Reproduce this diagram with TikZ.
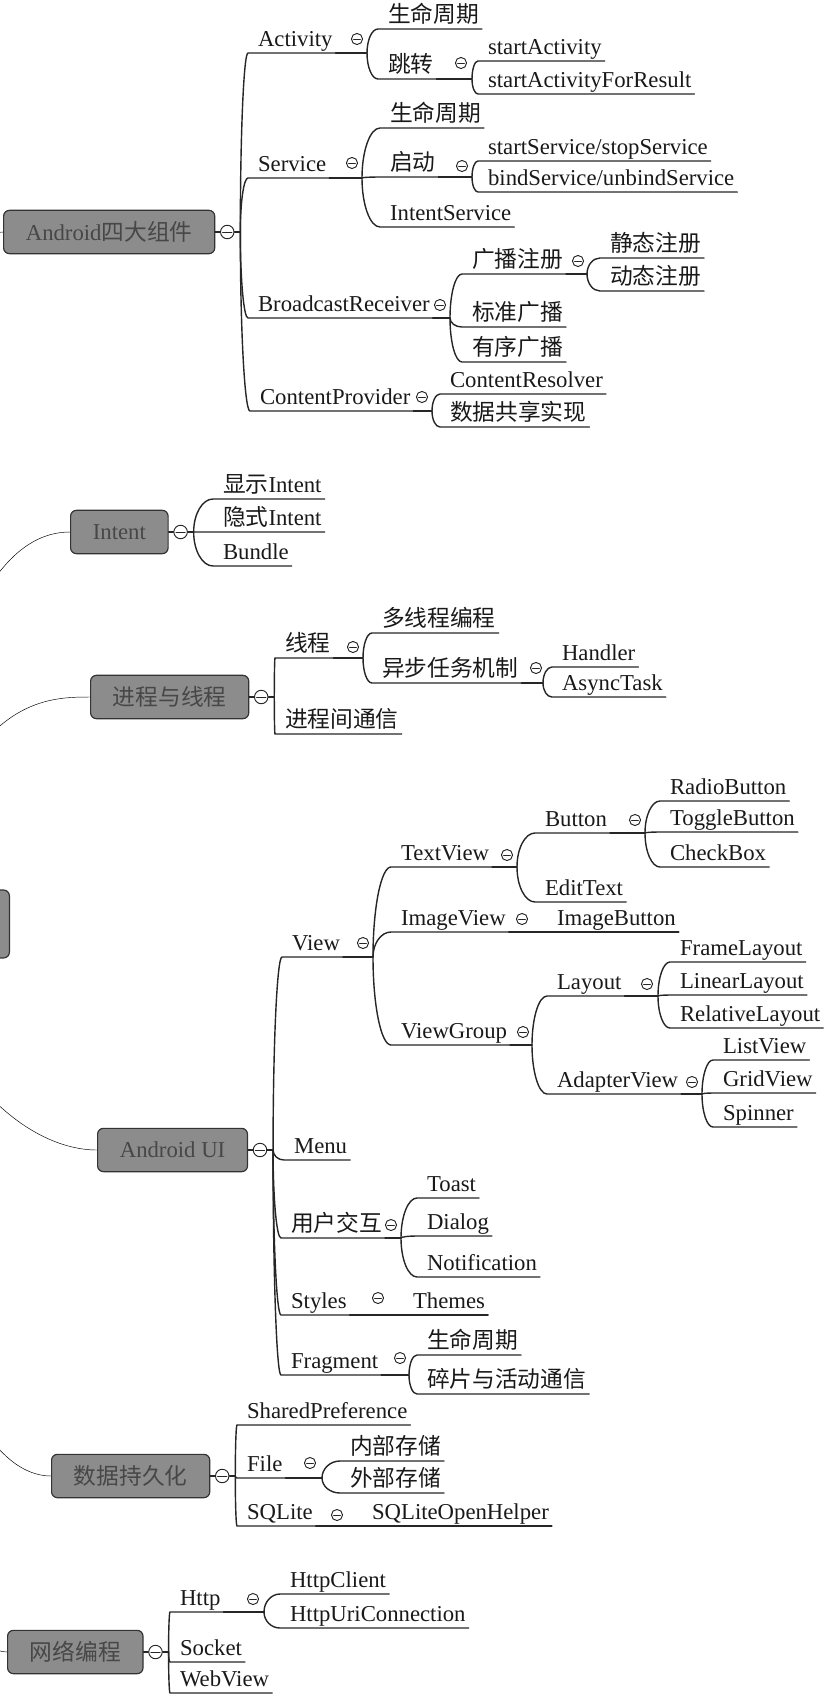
\documentclass[tikz,border=0pt]{standalone}
\usepackage{fontspec}
\setmainfont{Liberation Serif}
\newfontfamily\cjk{Noto Sans CJK SC}
\newcommand{\zh}[1]{{\cjk #1}}
\usetikzlibrary{calc,positioning}
\pgfdeclarelayer{back}
\pgfsetlayers{back,main}

\begin{document}
\begin{tikzpicture}[x=0.03cm, y=-0.03cm, line width=1.2pt, line cap=round, color=black!85,
    font=\fontsize{19.4}{22}\selectfont,
    topic/.style={anchor=south west, inner xsep=2pt, inner ysep=0.5pt, text height=14pt, text depth=4.6pt,
        text=black!90, execute at begin node={\hspace*{6pt}}},
    mainbox/.style={anchor=west, draw=black!80, fill=black!45, text=black!72, rounded corners=5pt,
        minimum height=37pt, inner xsep=19pt, line width=1pt},
    fold/.style={circle, draw, fill=white, inner sep=0pt, minimum size=9.5pt, line width=0.8pt,
        path picture={\draw[line width=0.8pt] ([xshift=1.8pt]path picture bounding box.west) -- ([xshift=-1.8pt]path picture bounding box.east);}},
    bigfold/.style={fold, minimum size=11.5pt},
    branch/.style={to path={.. controls ($(\tikztostart)!0.55!(\tikztostart |- \tikztotarget)$)
        and ($(\tikztotarget)!0.55!(\tikztostart |- \tikztotarget)$) .. (\tikztotarget)}}]
        \useasboundingbox (0,0) rectangle (833,1704);

        \node[mainbox, anchor=east, minimum width=180pt, minimum height=58pt] (root) at (10,924) {};

        % Android四大组件
        \node[mainbox] (comp) at (3,232) {Android\zh{四大组件}};
        \node[bigfold, right=4pt of comp] (compf) {};
        \coordinate (compb) at ([xshift=5pt]compf.east);
        \draw (comp) -- (compf);
        \draw (compf) -- (compb);
        \node[topic] (act) at (248,53) {Activity};
        \node[topic] (serv) at (248,178) {Service};
        \node[topic] (brd) at (248,318) {BroadcastReceiver};
        \node[topic] (cp) at (250,411) {ContentProvider};
        \foreach \n in {act,serv,brd,cp}
            \draw (compb) to[branch] (\n.south west) -- (\n.south east);

        \node[fold] (actf) at (357,39) {};
        \coordinate (actb) at (367,53);
        \draw (act.south east) -- (actb);
        \node[topic] (actlife) at (378,29) {\zh{生命周期}};
        \node[topic] (jump) at (378,79) {\zh{跳转}};
        \foreach \n in {actlife,jump}
            \draw (actb) to[branch] (\n.south west) -- (\n.south east);
        \node[fold] (jumpf) at (461,63) {};
        \coordinate (jumpb) at (472,79);
        \draw (jump.south east) -- (jumpb);
        \node[topic] (jumpa) at (478,61) {startActivity};
        \node[topic] (jumpr) at (478,94) {startActivityForResult};
        \foreach \n in {jumpa,jumpr}
            \draw (jumpb) to[branch] (\n.south west) -- (\n.south east);

        \node[fold] (servf) at (352,163) {};
        \coordinate (servb) at (362,178);
        \draw (serv.south east) -- (servb);
        \node[topic] (servlife) at (380,128) {\zh{生命周期}};
        \node[topic] (launch) at (380,177) {\zh{启动}};
        \node[topic] (isrv) at (380,227) {IntentService};
        \foreach \n in {servlife,launch,isrv}
            \draw (servb) to[branch] (\n.south west) -- (\n.south east);
        \node[fold] (launchf) at (462,166) {};
        \coordinate (launchb) at (472,177);
        \draw (launch.south east) -- (launchb);
        \node[topic] (startsrv) at (478,161) {startService/stopService};
        \node[topic] (bindsrv) at (478,192) {bindService/unbindService};
        \foreach \n in {startsrv,bindsrv}
            \draw (launchb) to[branch] (\n.south west) -- (\n.south east);

        \node[fold] (brdf) at (440,305) {};
        \coordinate (brdb) at (450,318);
        \draw (brd.south east) -- (brdb);
        \node[topic] (reg) at (462,274) {\zh{广播注册}};
        \node[topic] (normal) at (462,327) {\zh{标准广播}};
        \node[topic] (order) at (462,362) {\zh{有序广播}};
        \foreach \n in {reg,normal,order}
            \draw (brdb) to[branch] (\n.south west) -- (\n.south east);
        \node[fold] (regf) at (578,261) {};
        \coordinate (regb) at (587,274);
        \draw (reg.south east) -- (regb);
        \node[topic] (regstat) at (600,258) {\zh{静态注册}};
        \node[topic] (regdyn) at (600,291) {\zh{动态注册}};
        \foreach \n in {regstat,regdyn}
            \draw (regb) to[branch] (\n.south west) -- (\n.south east);

        \node[fold] (cpf) at (422,397) {};
        \coordinate (cpb) at (432,411);
        \draw (cp.south east) -- (cpb);
        \node[topic] (resolver) at (440,394) {ContentResolver};
        \node[topic] (share) at (440,427) {\zh{数据共享实现}};
        \foreach \n in {resolver,share}
            \draw (cpb) to[branch] (\n.south west) -- (\n.south east);

        % Intent
        \node[mainbox] (intent) at (70,532) {Intent};
        \node[bigfold, right=4pt of intent] (intentf) {};
        \coordinate (intentb) at ([xshift=5pt]intentf.east);
        \draw (intent) -- (intentf);
        \draw (intentf) -- (intentb);
        \node[topic] (explicit) at (213,499) {\zh{显示}Intent};
        \node[topic] (implicit) at (213,532) {\zh{隐式}Intent};
        \node[topic] (bundle) at (213,566) {Bundle};
        \foreach \n in {explicit,implicit,bundle}
            \draw (intentb) to[branch] (\n.south west) -- (\n.south east);

        % 进程与线程
        \node[mainbox] (proc) at (90,697) {\zh{进程与线程}};
        \node[bigfold, right=4pt of proc] (procf) {};
        \coordinate (procb) at ([xshift=5pt]procf.east);
        \draw (proc) -- (procf);
        \draw (procf) -- (procb);
        \node[topic] (thread) at (275,658) {\zh{线程}};
        \node[topic] (ipc) at (275,734) {\zh{进程间通信}};
        \foreach \n in {thread,ipc}
            \draw (procb) to[branch] (\n.south west) -- (\n.south east);
        \node[fold] (threadf) at (353,647) {};
        \coordinate (threadb) at (363,658);
        \draw (thread.south east) -- (threadb);
        \node[topic] (multi) at (372,633) {\zh{多线程编程}};
        \node[topic] (async) at (372,683) {\zh{异步任务机制}};
        \foreach \n in {multi,async}
            \draw (threadb) to[branch] (\n.south west) -- (\n.south east);
        \node[fold] (asyncf) at (536,668) {};
        \coordinate (asyncb) at (543,683);
        \draw (async.south east) -- (asyncb);
        \node[topic] (handler) at (552,667) {Handler};
        \node[topic] (atask) at (552,697) {AsyncTask};
        \foreach \n in {handler,atask}
            \draw (asyncb) to[branch] (\n.south west) -- (\n.south east);

        % Android UI
        \node[mainbox] (ui) at (97,1150) {Android UI};
        \node[bigfold, right=4pt of ui] (uif) {};
        \coordinate (uib) at ([xshift=5pt]uif.east);
        \draw (ui) -- (uif);
        \draw (uif) -- (uib);
        \node[topic] (view) at (282,957) {View};
        \node[topic] (menu) at (284,1160) {Menu};
        \node[topic] (inter) at (281,1238) {\zh{用户交互}};
        \node[topic] (sty) at (281,1315) {Styles};
        \node[topic] (frag) at (281,1375) {Fragment};
        \foreach \n in {view,menu,inter,sty,frag}
            \draw (uib) to[branch] (\n.south west) -- (\n.south east);

        \node[fold] (viewf) at (363,943) {};
        \coordinate (viewb) at (373,957);
        \draw (view.south east) -- (viewb);
        \node[topic] (tv) at (391,867) {TextView};
        \node[topic] (iv) at (391,932) {ImageView};
        \node[topic] (vg) at (391,1045) {ViewGroup};
        \foreach \n in {tv,iv,vg}
            \draw (viewb) to[branch] (\n.south west) -- (\n.south east);

        \node[fold] (tvf) at (507,855) {};
        \coordinate (tvb) at (517,867);
        \draw (tv.south east) -- (tvb);
        \node[topic] (btn) at (535,833) {Button};
        \node[topic] (et) at (535,902) {EditText};
        \foreach \n in {btn,et}
            \draw (tvb) to[branch] (\n.south west) -- (\n.south east);
        \node[fold] (btnf) at (635,820) {};
        \coordinate (btnb) at (645,833);
        \draw (btn.south east) -- (btnb);
        \node[topic] (rb) at (660,801) {RadioButton};
        \node[topic] (tb) at (660,832) {ToggleButton};
        \node[topic] (cb) at (660,867) {CheckBox};
        \foreach \n in {rb,tb,cb}
            \draw (btnb) to[branch] (\n.south west) -- (\n.south east);

        \node[fold] (ivf) at (522,919) {};
        \node[topic] (ib) at (547,932) {ImageButton};
        \draw (iv.south east) -- (ib.south west) -- (ib.south east);

        \node[fold] (vgf) at (523,1032) {};
        \coordinate (vgb) at (532,1045);
        \draw (vg.south east) -- (vgb);
        \node[topic] (lay) at (547,996) {Layout};
        \node[topic] (adp) at (547,1094) {AdapterView};
        \foreach \n in {lay,adp}
            \draw (vgb) to[branch] (\n.south west) -- (\n.south east);
        \node[fold] (layf) at (647,984) {};
        \coordinate (layb) at (658,996);
        \draw (lay.south east) -- (layb);
        \node[topic] (fl) at (670,962) {FrameLayout};
        \node[topic] (ll) at (670,995) {LinearLayout};
        \node[topic] (rl) at (670,1028) {RelativeLayout};
        \foreach \n in {fl,ll,rl}
            \draw (layb) to[branch] (\n.south west) -- (\n.south east);
        \node[fold] (adpf) at (692,1082) {};
        \coordinate (adpb) at (702,1094);
        \draw (adp.south east) -- (adpb);
        \node[topic] (lv) at (713,1060) {ListView};
        \node[topic] (gv) at (713,1093) {GridView};
        \node[topic] (spn) at (713,1127) {Spinner};
        \foreach \n in {lv,gv,spn}
            \draw (adpb) to[branch] (\n.south west) -- (\n.south east);

        \node[fold] (interf) at (391,1225) {};
        \coordinate (interb) at (401,1238);
        \draw (inter.south east) -- (interb);
        \node[topic] (toast) at (417,1198) {Toast};
        \node[topic] (dlg) at (417,1236) {Dialog};
        \node[topic] (ntf) at (417,1277) {Notification};
        \foreach \n in {toast,dlg,ntf}
            \draw (interb) to[branch] (\n.south west) -- (\n.south east);

        \node[fold] (styf) at (378,1298) {};
        \node[topic] (thm) at (403,1315) {Themes};
        \draw (sty.south east) -- (thm.south west) -- (thm.south east);

        \node[fold] (fragf) at (400,1358) {};
        \coordinate (fragb) at (409,1375);
        \draw (frag.south east) -- (fragb);
        \node[topic] (fraglife) at (417,1355) {\zh{生命周期}};
        \node[topic] (fragcom) at (417,1394) {\zh{碎片与活动通信}};
        \foreach \n in {fraglife,fragcom}
            \draw (fragb) to[branch] (\n.south west) -- (\n.south east);

        % 数据持久化
        \node[mainbox] (data) at (51,1476) {\zh{数据持久化}};
        \node[bigfold, right=4pt of data] (dataf) {};
        \coordinate (datab) at ([xshift=5pt]dataf.east);
        \draw (data) -- (dataf);
        \draw (dataf) -- (datab);
        \node[topic] (shared) at (237,1425) {SharedPreference};
        \node[topic] (file) at (237,1478) {File};
        \node[topic] (sqlite) at (237,1526) {SQLite};
        \foreach \n in {shared,file,sqlite}
            \draw (datab) to[branch] (\n.south west) -- (\n.south east);
        \node[fold] (filef) at (310,1463) {};
        \coordinate (fileb) at (322,1478);
        \draw (file.south east) -- (fileb);
        \node[topic] (inner) at (340,1461) {\zh{内部存储}};
        \node[topic] (outer) at (340,1493) {\zh{外部存储}};
        \foreach \n in {inner,outer}
            \draw (fileb) to[branch] (\n.south west) -- (\n.south east);
        \node[fold] (sqlitef) at (337,1515) {};
        \node[topic] (helper) at (362,1526) {SQLiteOpenHelper};
        \draw (sqlite.south east) -- (helper.south west) -- (helper.south east);

        % 网络编程
        \node[mainbox] (net) at (7,1652) {\zh{网络编程}};
        \node[bigfold, right=4pt of net] (netf) {};
        \coordinate (netb) at ([xshift=5pt]netf.east);
        \draw (net) -- (netf);
        \draw (netf) -- (netb);
        \node[topic] (http) at (170,1612) {Http};
        \node[topic] (sock) at (170,1662) {Socket};
        \node[topic] (web) at (170,1693) {WebView};
        \foreach \n in {http,sock,web}
            \draw (netb) to[branch] (\n.south west) -- (\n.south east);
        \node[fold] (httpf) at (253,1599) {};
        \coordinate (httpb) at (264,1612);
        \draw (http.south east) -- (httpb);
        \node[topic] (hc) at (280,1594) {HttpClient};
        \node[topic] (huc) at (280,1628) {HttpUriConnection};
        \foreach \n in {hc,huc}
            \draw (httpb) to[branch] (\n.south west) -- (\n.south east);

        \begin{pgfonlayer}{back}
        \draw (root.center) .. controls (-95,400) and (-50,232) .. (comp.west);
        \draw (root.center) .. controls (-60,580) and (20,532) .. (intent.west);
        \draw (root.center) .. controls (-40,700) and (40,697) .. (proc.west);
        \draw (root.center) .. controls (-60,1080) and (30,1150) .. (ui.west);
        \draw (root.center) .. controls (-95,1400) and (0,1476) .. (data.west);
        \draw (root.center) .. controls (-95,1450) and (-50,1652) .. (net.west);
        \end{pgfonlayer}
\end{tikzpicture}
\end{document}
